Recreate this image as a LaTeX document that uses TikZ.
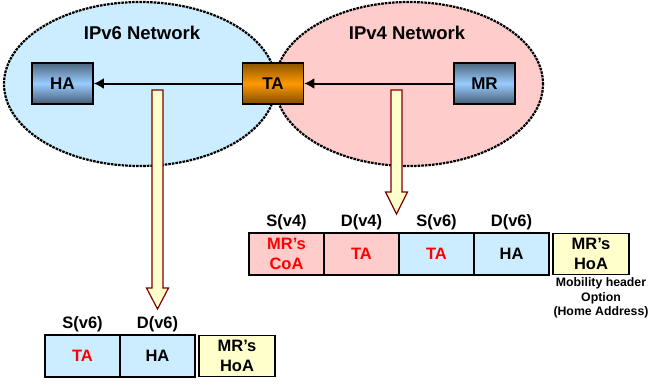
\documentclass[tikz,border=0pt]{standalone}
\usepackage{fontspec}
\setmainfont{Liberation Sans}
\usetikzlibrary{positioning,arrows.meta}
\tikzset{>={Latex[length=10pt,width=11pt]}}
\definecolor{v6col}{HTML}{CCECFF}
\definecolor{v4col}{HTML}{FFCCCC}
\definecolor{hoacol}{HTML}{FFFFCC}
\definecolor{fatcol}{HTML}{800000}
\definecolor{routercol}{HTML}{99CCFF}
\definecolor{tacol}{HTML}{FF9900}
\tikzset{
  net/.style={draw=black,line width=2.2pt,dash pattern=on 0.4pt off 3.2pt,line cap=rect},
  netname/.style={font=\fontsize{18.5}{20}\selectfont\bfseries},
  router/.style={draw=black,line width=1.6pt,minimum width=61pt,minimum height=41pt,inner sep=0,
    font=\fontsize{17}{19}\selectfont\bfseries,
    top color=routercol!50!black,bottom color=routercol!45!black,middle color=routercol},
  relay/.style={router,top color=tacol!55!black,bottom color=tacol!50!black,middle color=tacol},
  tunnel/.style={->,line width=2pt},
  fat/.style={fill=hoacol,draw=fatcol,line width=1.2pt,line join=miter},
  field/.style={draw=black,line width=1.6pt,outer sep=0,minimum width=75pt,minimum height=42pt,
    inner sep=0,align=center,font=\fontsize{16.5}{20}\selectfont\bfseries},
  hoa/.style={field,fill=hoacol,minimum width=76pt,minimum height=41pt},
  hdr/.style={inner sep=0,font=\fontsize{16.5}{19}\selectfont\bfseries},
  note/.style={inner sep=0,align=center,font=\fontsize{12.3}{14.5}\selectfont\bfseries},
}
\begin{document}
\begin{tikzpicture}[x=1pt,y=-1pt]
    \useasboundingbox (0,0) rectangle (650,383);
    % networks
    \draw[net,fill=v6col] (140,84) ellipse [x radius=136,y radius=82];
    \draw[net,fill=v4col] (409,84) ellipse [x radius=134,y radius=82];
    \node[netname] (v6) at (142,33) {IPv6 Network};
    \node[netname] (v4) at (407,33) {IPv4 Network};
    % routers
    \node[router] (HA) at (62.5,83.5) {HA};
    \node[relay] (TA) at (273,83.5) {TA};
    \node[router] (MR) at (484.5,83.5) {MR};
    \draw[tunnel] (MR) -- (TA);
    \draw[tunnel] (TA) -- (HA);
    % packets going down
    \coordinate (dn6) at (157.5,90);
    \coordinate (dn4) at (396.5,90);
    \draw[fat] (dn6) ++(-5.5,0) -- ++(11,0) -- ++(0,198) -- ++(5.5,0) -- ++(-11,21)
      -- ++(-11,-21) -- ++(5.5,0) -- cycle;
    \draw[fat] (dn4) ++(-5.5,0) -- ++(11,0) -- ++(0,102) -- ++(5.5,0) -- ++(-11,22)
      -- ++(-11,-22) -- ++(5.5,0) -- cycle;
    % v4 tunnelled packet
    \node[field,fill=v4col,text=red,anchor=west] (coa) at (249,254) {MR’s\\CoA};
    \node[field,fill=v4col,text=red,right=0pt of coa] (ta4) {TA};
    \node[field,fill=v6col,text=red,right=0pt of ta4] (ta6) {TA};
    \node[field,fill=v6col,right=0pt of ta6] (ha6) {HA};
    \node[hoa,right=4pt of ha6] (hoa4) {MR’s\\HoA};
    \node[hdr,above=3pt of coa] {S(v4)};
    \node[hdr,above=3pt of ta4] {D(v4)};
    \node[hdr,above=3pt of ta6] {S(v6)};
    \node[hdr,above=3pt of ha6] {D(v6)};
    \node[note,below=3pt of hoa4,xshift=10pt] (mh) {Mobility header\\Option\\(Home Address)};
    % v6 packet
    \node[field,fill=v6col,text=red,anchor=west] (src) at (45,356) {TA};
    \node[field,fill=v6col,right=0pt of src] (dst) {HA};
    \node[hoa,right=4pt of dst] (hoa6) {MR’s\\HoA};
    \node[hdr,above=3pt of src] {S(v6)};
    \node[hdr,above=3pt of dst] {D(v6)};
\end{tikzpicture}
\end{document}
